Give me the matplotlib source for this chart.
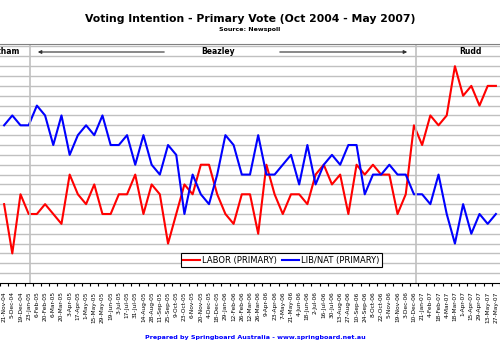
import matplotlib
matplotlib.use("Agg")
import matplotlib.pyplot as plt
import numpy as np

# poll dates (first one is cut off at the left edge, last one at the right edge)
dates = ["21-Nov-04", "5-Dec-04", "19-Dec-04", "23-Jan-05", "6-Feb-05", "20-Feb-05",
         "6-Mar-05", "20-Mar-05", "3-Apr-05", "17-Apr-05", "1-May-05", "15-May-05",
         "29-May-05", "19-Jun-05", "3-Jul-05", "17-Jul-05", "31-Jul-05", "14-Aug-05",
         "28-Aug-05", "11-Sep-05", "25-Sep-05", "9-Oct-05", "23-Oct-05", "6-Nov-05",
         "20-Nov-05", "4-Dec-05", "18-Dec-05", "29-Jan-06", "12-Feb-06", "26-Feb-06",
         "12-Mar-06", "26-Mar-06", "9-Apr-06", "23-Apr-06", "7-May-06", "21-May-06",
         "4-Jun-06", "18-Jun-06", "2-Jul-06", "16-Jul-06", "30-Jul-06", "13-Aug-06",
         "27-Aug-06", "10-Sep-06", "24-Sep-06", "8-Oct-06", "22-Oct-06", "5-Nov-06",
         "19-Nov-06", "3-Dec-06", "10-Dec-06", "21-Jan-07", "4-Feb-07", "18-Feb-07",
         "4-Mar-07", "18-Mar-07", "1-Apr-07", "15-Apr-07", "29-Apr-07", "13-May-07",
         "27-May-07"]

labor = [36, 31, 37, 35, 35, 36, 35, 34, 39, 37, 36, 38, 35, 35, 37, 37, 39, 35, 38, 37,
         32, 35, 38, 37, 40, 40, 37, 35, 34, 37, 37, 33, 40, 37, 35, 37, 37, 36, 39, 40,
         38, 39, 35, 40, 39, 40, 39, 39, 35, 37, 44, 42, 45, 44, 45, 50, 47, 48, 46, 48,
         48]

libnat = [44, 45, 44, 44, 46, 45, 42, 45, 41, 43, 44, 43, 45, 42, 42, 43, 40, 43, 40, 39,
          42, 41, 35, 39, 37, 36, 39, 43, 42, 39, 39, 43, 39, 39, 40, 41, 38, 42, 38, 40,
          41, 40, 42, 42, 37, 39, 39, 40, 39, 39, 37, 37, 36, 39, 35, 32, 36, 33, 35, 34,
          35]

x = np.arange(len(dates)) - 1  # index 0 = 5-Dec-04

plt.rcParams["font.family"] = "DejaVu Sans"
fig = plt.figure(figsize=(5.0, 3.54), dpi=100)
ax = fig.add_axes([0.0, 0.2006, 1.0, 0.6751])

ax.plot(x, labor, color="#ff0000", lw=1.5, label="LABOR (PRIMARY)")
ax.plot(x, libnat, color="#0000ff", lw=1.5, label="LIB/NAT (PRIMARY)")

ax.set_xlim(-0.83, 58.48)
ax.set_ylim(28, 52.25)
ax.set_yticks(np.arange(29, 53))
ax.yaxis.grid(True, color="#c0c0c0", lw=1.0)
ax.set_axisbelow(True)
ax.tick_params(axis="y", left=False, labelleft=False)

ax.set_xticks(x)
ax.set_xticklabels(dates, rotation=90, fontsize=4.2, va="top")
ax.set_xticks(np.arange(-1.5, 60, 1), minor=True)
ax.tick_params(axis="x", which="major", length=0, pad=6)
ax.tick_params(axis="x", which="minor", length=2.5, width=0.8, color="black")

for s in ["left", "right"]:
    ax.spines[s].set_visible(False)
ax.spines["top"].set_color("#808080")
ax.spines["bottom"].set_color("black")

# leader change lines
ax.axvline(2.2, color="#c0c0c0", lw=1.2)
ax.axvline(49.25, color="#c0c0c0", lw=1.2)

# leader names
fig.text(20 / 500, 1 - 52 / 354, "Latham", fontsize=5.5, fontweight="bold",
         ha="right", va="center")
fig.text(218 / 500, 1 - 52 / 354, "Beazley", fontsize=5.5, fontweight="bold",
         ha="center", va="center")
fig.text(470 / 500, 1 - 52 / 354, "Rudd", fontsize=5.5, fontweight="bold",
         ha="center", va="center")
arrow = dict(arrowstyle="-|>", color="#303030", lw=0.8, mutation_scale=5)
ax.annotate("", xy=(35 / 500, 1 - 52 / 354), xytext=(167 / 500, 1 - 52 / 354),
            xycoords="figure fraction", arrowprops=arrow)
ax.annotate("", xy=(410 / 500, 1 - 52 / 354), xytext=(277 / 500, 1 - 52 / 354),
            xycoords="figure fraction", arrowprops=arrow)

fig.text(0.5, 1 - 19 / 354, "Voting Intention - Primary Vote (Oct 2004 - May 2007)",
         fontsize=7.8, fontweight="bold", ha="center", va="center")
fig.text(0.5, 1 - 30 / 354, "Source: Newspoll", fontsize=4.5, fontweight="bold",
         ha="center", va="center")
fig.text(0.51, 1 - 337 / 354,
         "Prepared by Springboard Australia - www.springboard.net.au",
         fontsize=4.6, fontweight="bold", color="#0000ff", ha="center", va="center")

leg = ax.legend(loc="center", bbox_to_anchor=(281.5 / 500, 1 - 260 / 354),
                bbox_transform=fig.transFigure, ncol=2, fontsize=6.0,
                frameon=True, fancybox=False, edgecolor="black", framealpha=1,
                handlelength=2.0, handletextpad=0.3, columnspacing=0.6,
                borderpad=0.3)
leg.get_frame().set_linewidth(0.8)

fig.savefig("out.png", dpi=100)
